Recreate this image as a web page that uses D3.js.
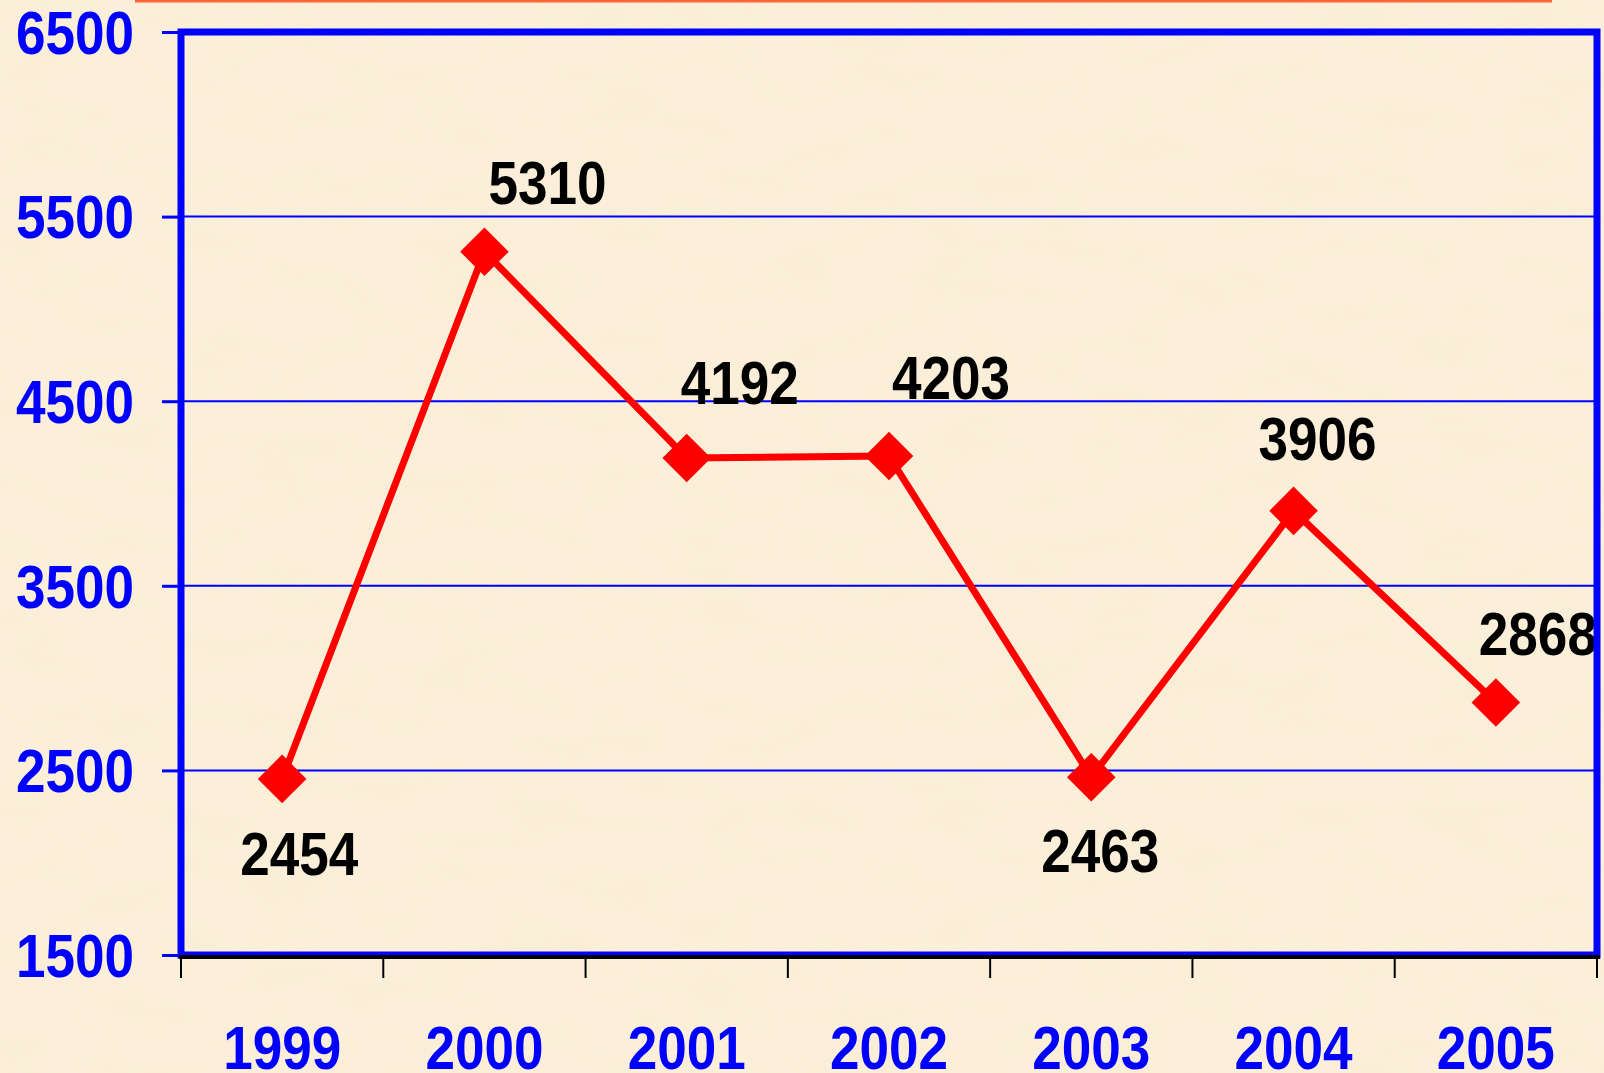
<!DOCTYPE html>
<html>
<head>
<meta charset="utf-8">
<script src="https://cdn.jsdelivr.net/npm/d3@7"></script>
<style>
  html, body { margin: 0; padding: 0; background: #fbefd9; overflow: hidden; }
  svg { display: block; }
</style>
</head>
<body>
<div id="chart"></div>
<script>
// data
const years = ["1999", "2000", "2001", "2002", "2003", "2004", "2005"];
const values = [2454, 5310, 4192, 4203, 2463, 3906, 2868];
const yTicks = [1500, 2500, 3500, 4500, 5500, 6500];

// label nudges (dx, dy from the marker), like the hand-placed labels of the original
const labelNudge = [[-42, 96], [4, -48], [-6, -54], [3, -57], [-50, 95], [-35, -51], [-17, -47]];

const W = 1604, H = 1073;
const plot = { left: 181, right: 1597, top: 32, bottom: 955 };
const squeeze = 0.87; // the font in the picture is a bit narrow

const svg = d3.select("#chart").append("svg")
    .attr("width", W)
    .attr("height", H);

// paper background
const defs = svg.append("defs");
const f = defs.append("filter").attr("id", "paper").attr("x", 0).attr("y", 0).attr("width", "100%").attr("height", "100%");
f.append("feTurbulence").attr("type", "fractalNoise").attr("baseFrequency", "0.012 0.03").attr("numOctaves", 3).attr("seed", 7);
f.append("feColorMatrix").attr("type", "matrix")
    .attr("values", "0 0 0 0 0.88  0 0 0 0 0.80  0 0 0 0 0.60  0.6 0 0 0 -0.25");

svg.append("rect").attr("width", W).attr("height", H).attr("fill", "#fbefd9");
svg.append("rect").attr("width", W).attr("height", H).attr("filter", "url(#paper)").attr("opacity", 0.45);

// bit of the title underline that shows at the top
svg.append("line")
    .attr("x1", 135).attr("x2", 1552)
    .attr("y1", 1).attr("y2", 1)
    .attr("stroke", "#ff6633")
    .attr("stroke-width", 3);

const x = d3.scaleBand().domain(years).range([plot.left, plot.right]);
const y = d3.scaleLinear().domain([1500, 6500]).range([plot.bottom, plot.top]);

// gridlines
svg.append("g")
    .selectAll("line")
    .data(yTicks.slice(1, -1))
    .join("line")
    .attr("x1", plot.left).attr("x2", plot.right)
    .attr("y1", d => y(d)).attr("y2", d => y(d))
    .attr("stroke", "#0000ff")
    .attr("stroke-width", 2);

// y axis
const yAxis = svg.append("g")
    .attr("transform", `translate(${plot.left},0)`)
    .call(d3.axisLeft(y).tickValues(yTicks).tickSize(19).tickPadding(28).tickFormat(d3.format("d")));
yAxis.select(".domain").remove();
yAxis.selectAll(".tick line").attr("stroke", "#0000ff").attr("stroke-width", 3);
yAxis.selectAll(".tick text")
    .attr("x", -47 / squeeze)
    .attr("dy", "0.35em")
    .attr("transform", `scale(${squeeze},1)`)
    .attr("fill", "#0000ff")
    .style("font-family", "'Liberation Sans', Arial, sans-serif")
    .style("font-weight", "bold")
    .style("font-size", "61px");

// x axis
const xAxis = svg.append("g")
    .attr("transform", `translate(0,957)`)
    .call(d3.axisBottom(x).tickSize(0));
xAxis.select(".domain").remove();
xAxis.selectAll(".tick line").remove();
xAxis.selectAll(".tick text")
    .attr("x", 0)
    .attr("y", 112)
    .attr("dy", 0)
    .attr("transform", `scale(${squeeze},1)`)
    .attr("fill", "#0000ff")
    .style("font-family", "'Liberation Sans', Arial, sans-serif")
    .style("font-weight", "bold")
    .style("font-size", "61px");

// tick marks sit between the years
const edges = years.map(d => x(d)).concat([plot.right]);
svg.append("g")
    .selectAll("line")
    .data(edges)
    .join("line")
    .attr("x1", d => d).attr("x2", d => d)
    .attr("y1", 957).attr("y2", 978)
    .attr("stroke", "#000")
    .attr("stroke-width", 2);

// red line
const pts = years.map((yr, i) => ({ year: yr, value: values[i], nudge: labelNudge[i] }));
const cx = d => x(d.year) + x.bandwidth() / 2;

svg.append("path")
    .datum(pts)
    .attr("fill", "none")
    .attr("stroke", "#ff0000")
    .attr("stroke-width", 7)
    .attr("stroke-linejoin", "round")
    .attr("d", d3.line().x(cx).y(d => y(d.value)));

svg.append("g")
    .selectAll("path")
    .data(pts)
    .join("path")
    .attr("d", d3.symbol(d3.symbolSquare, 1180))
    .attr("transform", d => `translate(${cx(d)},${y(d.value)}) rotate(45)`)
    .attr("fill", "#ff0000");

// value labels
svg.append("g")
    .selectAll("g")
    .data(pts)
    .join("g")
    .attr("transform", d => `translate(${cx(d) + d.nudge[0]},${y(d.value) + d.nudge[1]}) scale(${squeeze},1)`)
    .append("text")
    .attr("text-anchor", "start")
    .attr("fill", "#000")
    .style("font-family", "'Liberation Sans', Arial, sans-serif")
    .style("font-weight", "bold")
    .style("font-size", "61px")
    .text(d => d.value);

// plot frame and the black base line
svg.append("rect")
    .attr("x", plot.left).attr("y", plot.top)
    .attr("width", plot.right - plot.left)
    .attr("height", plot.bottom - plot.top)
    .attr("fill", "none")
    .attr("stroke", "#0000ff")
    .attr("stroke-width", 7);

svg.append("line")
    .attr("x1", plot.left - 2).attr("x2", plot.right + 3)
    .attr("y1", 957).attr("y2", 957)
    .attr("stroke", "#000")
    .attr("stroke-width", 4);
</script>
</body>
</html>
